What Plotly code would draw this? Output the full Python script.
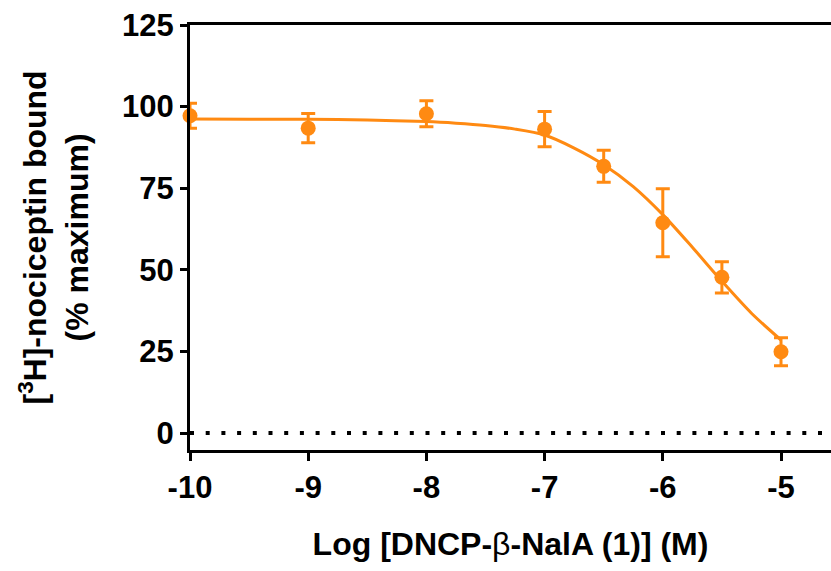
import plotly.graph_objects as go

# Measured binding data (mean ± SEM)
log_conc = [-10, -9, -8, -7, -6.5, -6, -5.5, -5]
bound_pct = [97.2, 93.4, 97.8, 93.1, 81.7, 64.4, 47.7, 24.9]
bound_sem = [3.8, 4.5, 4.0, 5.4, 4.9, 10.4, 4.8, 4.3]

# Fitted inhibition curve, sampled along the concentration axis
curve_x = [-10, -9.5, -9, -8.5, -8, -7.75, -7.5, -7.25, -7, -6.75, -6.5,
           -6.25, -6, -5.75, -5.5, -5.25, -5]
curve_y = [96.2, 96.15, 96.1, 95.9, 95.4, 94.9, 94.2, 93.1, 91.3, 87.3, 82.2,
           75.5, 66.9, 56.9, 46.5, 36.7, 28.5]

# Axis ticks
x_ticks = [-10, -9, -8, -7, -6, -5]
y_ticks = [0, 25, 50, 75, 100, 125]

ORANGE = "#FF8A12"
FONT = "Liberation Sans, Arial, sans-serif"

fig = go.Figure()

# Dotted zero baseline
fig.add_trace(go.Scatter(
    x=[-10, -4.5], y=[0, 0], mode="lines",
    line=dict(color="black", width=4, dash="4px,11.7px"),
    hoverinfo="skip", showlegend=False, cliponaxis=True,
))

# Fit curve
fig.add_trace(go.Scatter(
    x=curve_x, y=curve_y, mode="lines",
    line=dict(color=ORANGE, width=3, shape="spline", smoothing=0.8),
    showlegend=False, cliponaxis=False,
))

# Data points with error bars
fig.add_trace(go.Scatter(
    x=log_conc, y=bound_pct, mode="markers",
    marker=dict(color=ORANGE, size=15, symbol="circle"),
    error_y=dict(type="data", array=bound_sem, visible=True,
                 color=ORANGE, thickness=3, width=7),
    showlegend=False, cliponaxis=False,
))

tick_font = dict(family=FONT, size=31, color="black", weight="bold")
title_font = dict(family=FONT, size=32, color="black", weight="bold")

fig.update_layout(
    width=831, height=571,
    margin=dict(l=190, r=0, t=25, b=121),
    paper_bgcolor="white", plot_bgcolor="white",
    font=dict(family=FONT, color="black"),
    xaxis=dict(
        range=[-10, -4.577], tickvals=x_ticks,
        ticktext=[str(v) for v in x_ticks],
        showgrid=False, zeroline=False,
        showline=True, linecolor="black", linewidth=3, mirror=True,
        ticks="outside", ticklen=8, tickwidth=3, tickcolor="black",
        tickfont=tick_font,
        title=dict(
            text='Log [DNCP-<span style="font-weight:normal">β</span>-NalA (1)] (M)',
            font=title_font, standoff=29,
        ),
    ),
    yaxis=dict(
        range=[-5.2, 125], tickvals=y_ticks,
        showgrid=False, zeroline=False,
        showline=True, linecolor="black", linewidth=3,
        ticks="outside", ticklen=7, tickwidth=3, tickcolor="black",
        tickfont=tick_font,
    ),
    annotations=[dict(
        text="[<sup>3</sup>H]-nociceptin bound<br>(% maximum)",
        xref="paper", yref="paper", x=(53 - 190) / 641, y=0.5,
        xanchor="center", yanchor="middle", textangle=-90,
        showarrow=False, font=title_font,
    )],
)

fig.write_html("out.html")
